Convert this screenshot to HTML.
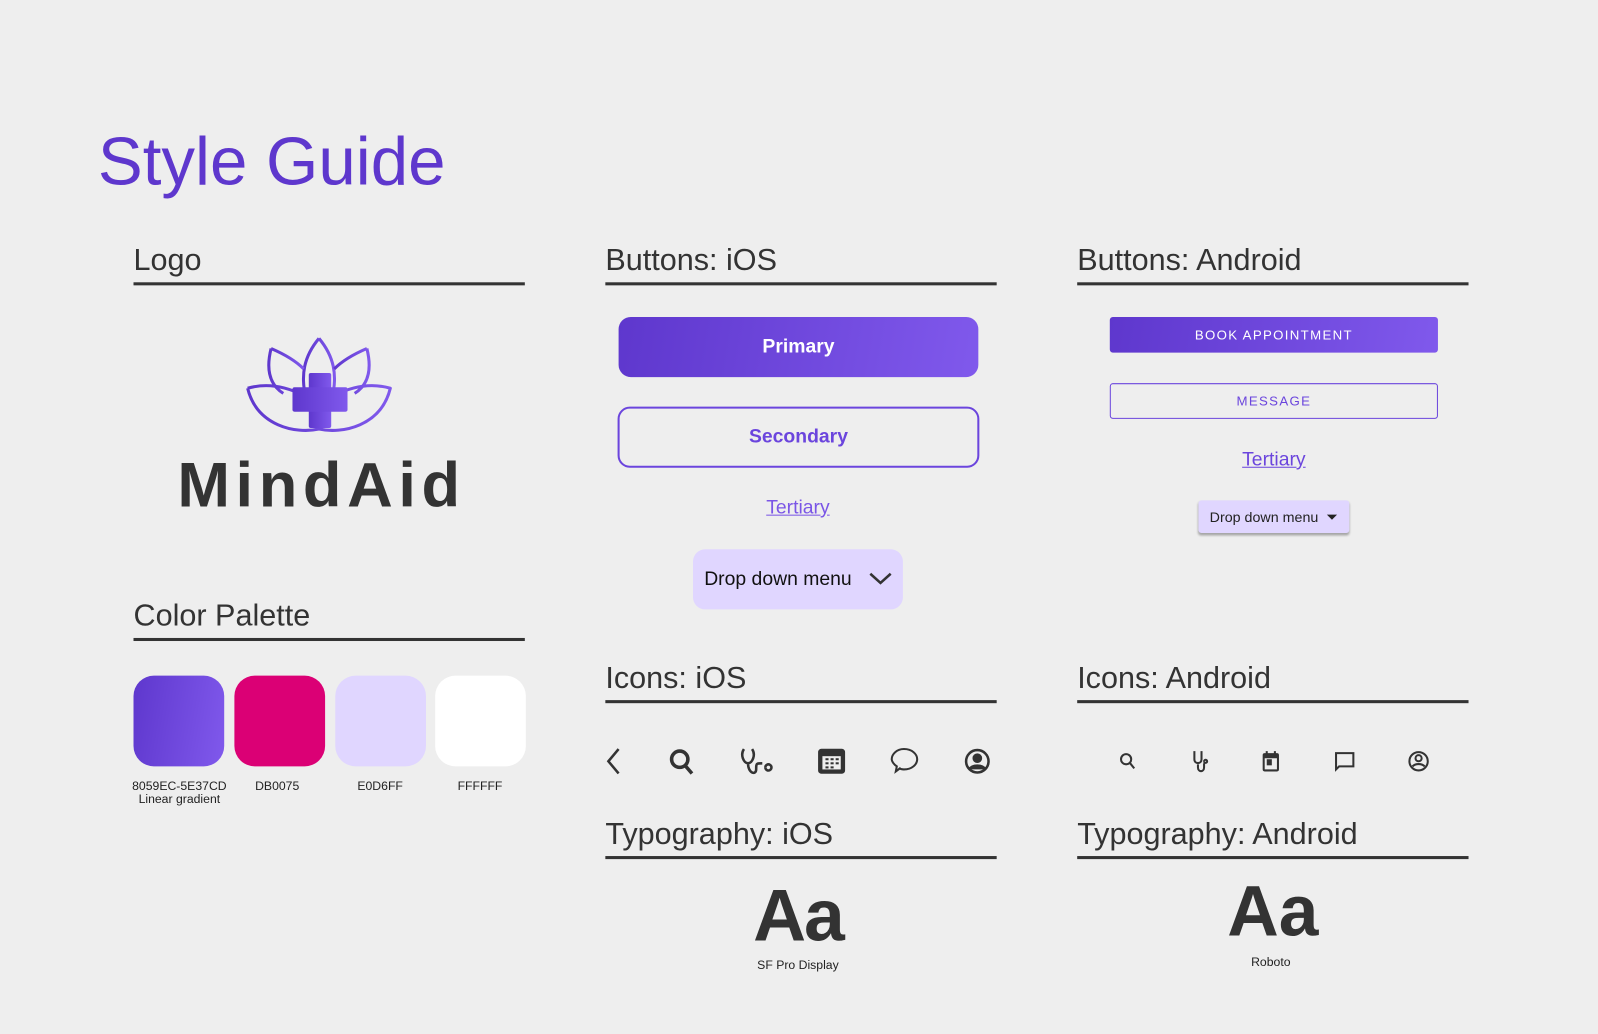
<!DOCTYPE html>
<html><head><meta charset="utf-8"><style>
*{margin:0;padding:0;box-sizing:border-box}
html,body{width:1598px;height:1034px;overflow:hidden;background:#eeeeee}
#c{position:absolute;left:0;top:0;width:1568px;height:1015px;transform:scale(1.0191);transform-origin:0 0;font-family:"Liberation Sans",sans-serif;color:#333}
.a{position:absolute}
.h{position:absolute;font-size:30px;color:#333;width:384px;height:40px;border-bottom:3px solid #333;line-height:32px}
.grad{background:linear-gradient(100deg,#5e37cd,#8059ec)}
.sw{position:absolute;top:663px;width:89px;height:89px;border-radius:20px}
.lb{position:absolute;font-size:12px;text-align:center;width:120px;line-height:13px;color:#222}
.ctr{display:flex;align-items:center;justify-content:center}
</style></head><body><div id="c">
<div class="a" style="left:96px;top:119px;font-size:66px;color:#5e37cd;line-height:78px">Style Guide</div>

<div class="h" style="left:131px;top:240px">Logo</div>
<div class="h" style="left:594px;top:240px">Buttons: iOS</div>
<div class="h" style="left:1057px;top:240px">Buttons: Android</div>
<div class="h" style="left:131px;top:589px">Color Palette</div>
<div class="h" style="left:594px;top:650px">Icons: iOS</div>
<div class="h" style="left:1057px;top:650px">Icons: Android</div>
<div class="h" style="left:594px;top:803px">Typography: iOS</div>
<div class="h" style="left:1057px;top:803px">Typography: Android</div>

<svg class="a" style="left:240px;top:328px" width="150" height="102" viewBox="0 0 150 102">
<defs><linearGradient id="g" x1="0" x2="1"><stop offset="0" stop-color="#5e37cd"/><stop offset="1" stop-color="#8059ec"/></linearGradient></defs>
<g fill="none" stroke="url(#g)" stroke-width="3" stroke-linejoin="round">
<path d="M73 4 C58 22 55 40 60 62 M73 4 C88 22 91 40 86 62"/>
<path d="M26 14 C22 30 22 48 38 58 M26 14 C40 20 50 26 58 34"/>
<path d="M120 14 C124 30 124 48 108 58 M120 14 C106 20 96 26 88 34"/>
<path d="M3 53 C20 48 38 50 58 60 M3 53 C12 90 50 98 73 93 C96 98 134 90 143 53 C126 48 108 50 88 60"/>
</g>
<rect x="63" y="38" width="22" height="54" rx="2" fill="url(#g)"/>
<rect x="47" y="52" width="54" height="24" rx="2" fill="url(#g)"/>
</svg>
<div class="a" style="left:174px;top:441px;font-size:62px;font-weight:bold;line-height:71px;letter-spacing:5.5px;color:#333">MindAid</div>

<div class="sw grad" style="left:131px"></div>
<div class="sw" style="left:230px;background:#db0075"></div>
<div class="sw" style="left:329px;background:#e0d6ff"></div>
<div class="sw" style="left:427px;background:#fff"></div>
<div class="lb" style="left:116px;top:765px">8059EC-5E37CD<br>Linear gradient</div>
<div class="lb" style="left:212px;top:765px">DB0075</div>
<div class="lb" style="left:313px;top:765px">E0D6FF</div>
<div class="lb" style="left:411px;top:765px">FFFFFF</div>

<div class="a grad ctr" style="left:607px;top:311px;width:353px;height:59px;border-radius:12px;color:#fff;font-weight:bold;font-size:19px">Primary</div>
<div class="a ctr" style="left:606px;top:399px;width:355px;height:60px;border-radius:12px;border:2px solid #6b45dd;color:#6b45dd;font-weight:bold;font-size:19px">Secondary</div>
<div class="a ctr" style="left:683px;top:485px;width:200px;height:28px;color:#7a55e6;font-size:19px;text-decoration:underline">Tertiary</div>
<div class="a" style="left:680px;top:539px;width:206px;height:59px;border-radius:12px;background:#e0d6ff;font-size:19px;color:#111;line-height:59px;padding-left:11px">Drop down menu
<svg class="a" style="left:172px;top:21px" width="24" height="16"><path d="M2 3l10 9 10-9" fill="none" stroke="#333" stroke-width="2.5"/></svg></div>

<div class="a grad ctr" style="left:1089px;top:311px;width:322px;height:35px;border-radius:3px;color:#fff;font-size:13px;letter-spacing:1.3px;font-weight:500">BOOK APPOINTMENT</div>
<div class="a ctr" style="left:1089px;top:376px;width:322px;height:35px;border-radius:3px;border:1px solid #6b45dd;color:#6b45dd;font-size:13px;letter-spacing:1.3px">MESSAGE</div>
<div class="a ctr" style="left:1150px;top:438px;width:200px;height:28px;color:#6b45dd;font-size:19px;text-decoration:underline">Tertiary</div>
<div class="a" style="left:1176px;top:491px;width:148px;height:32px;border-radius:3px;background:#e0d6ff;box-shadow:0 2px 2px rgba(0,0,0,.3);font-size:14px;color:#222;line-height:32px;padding-left:11px">Drop down menu
<svg class="a" style="left:125px;top:13px" width="12" height="8"><path d="M1 1h10l-5 5z" fill="#222"/></svg></div>

<svg class="a" style="left:590px;top:725px" width="400" height="44" fill="none" stroke="#333" stroke-width="2.5">
<path d="M17 10l-10 12 10 12"/>
<circle cx="77" cy="20" r="8" stroke-width="3.5"/><path d="M83 27l6 7" stroke-width="3.5"/>
<path d="M140 10c-4 6 0 14 4 14s8-8 4-14M144 24c0 10 8 12 8 6s0-6 6-6M161 28a3 3 0 1 1 0 .1"/>
<rect x="214" y="11" width="24" height="22" rx="2" fill="#333"/><g fill="#eee" stroke="none"><rect x="217" y="17" width="18" height="13"/></g>
<g fill="#333" stroke="none"><rect x="220" y="19" width="3" height="2"/><rect x="225" y="19" width="3" height="2"/><rect x="230" y="19" width="3" height="2"/><rect x="220" y="23" width="3" height="2"/><rect x="225" y="23" width="3" height="2"/><rect x="230" y="23" width="3" height="2"/><rect x="220" y="27" width="3" height="2"/><rect x="225" y="27" width="3" height="2"/></g>
<path d="M297 10c8 0 13 5 13 10s-5 10-13 10c-1 0-3 0-4-1l-4 3 1-5c-3-2-5-5-5-7 0-5 5-10 12-10z" stroke-width="2"/>
<circle cx="369" cy="22" r="11"/><circle cx="369" cy="19" r="3.5" fill="#333"/><path d="M361 30c3-5 13-5 16 0" fill="#333"/>
</svg>
<svg class="a" style="left:1090px;top:730px" width="320" height="34" fill="none" stroke="#333" stroke-width="2">
<circle cx="15" cy="15" r="5"/><path d="M19 19l4 5"/>
<path d="M82 7v8c0 5 7 5 7 0V7M85.5 20v3c0 5 6 5 6 0v-4M91.5 17a1.5 1.5 0 1 1 0 .1"/>
<rect x="150" y="10" width="14" height="16" rx="1"/><path d="M150 12h14" stroke-width="4"/><path d="M153 7v4M161 7v4"/><rect x="154" y="16" width="3" height="4" fill="#333"/>
<path d="M221 9h17v13h-14l-3 3z"/>
<circle cx="302" cy="17" r="9"/><circle cx="302" cy="14" r="3"/><path d="M296 22c3-3 9-3 12 0"/>
</svg>

<div class="a" style="left:683px;top:856px;width:200px;text-align:center;font-size:72px;font-weight:bold;letter-spacing:-2px;line-height:86px">Aa</div>
<div class="a" style="left:683px;top:940px;width:200px;text-align:center;font-size:12px;color:#222">SF Pro Display</div>
<div class="a" style="left:1149px;top:851px;width:200px;text-align:center;font-size:70px;font-weight:bold;line-height:86px">Aa</div>
<div class="a" style="left:1147px;top:937px;width:200px;text-align:center;font-size:12px;color:#222">Roboto</div>
</div></body></html>
